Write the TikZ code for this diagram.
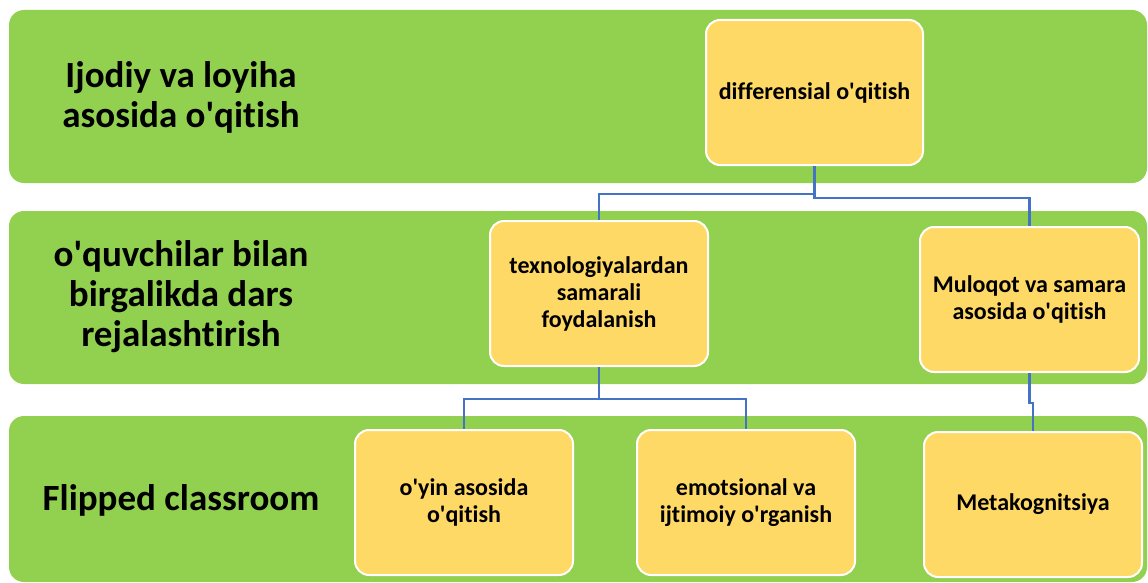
\documentclass[tikz,border=0pt]{standalone}
\usepackage{fontspec}
\setmainfont{Carlito}[Ligatures={TeX,NoCommon}]
\newcommand{\ap}{\textquotesingle}
\definecolor{bandgreen}{HTML}{92D050}
\definecolor{boxyellow}{HTML}{FFD966}
\definecolor{linkblue}{HTML}{4472C4}
\tikzset{
  band/.style={fill=bandgreen, draw=none, rounded corners=15pt},
  bandlabel/.style={align=center, font=\fontsize{37}{40}\selectfont\bfseries, text=black},
  card/.style={fill=boxyellow, draw=white, line width=2pt, rounded corners=14pt,
    minimum width=218pt, minimum height=145pt, align=center, inner sep=0pt,
    font=\fontsize{24}{27}\selectfont\bfseries, text=black},
  link/.style={draw=linkblue, line width=2.2pt}
}
\begin{document}
\begin{tikzpicture}[x=1pt,y=-1pt]
\useasboundingbox (0,0) rectangle (1148,583);
\fill[white] (0,0) rectangle (1148,583);
% bands
\path[band] (9,10) rectangle (1147,183);
\path[band] (9,211) rectangle (1147,384);
\path[band] (9,416) rectangle (1147,582);
% band labels
\node[bandlabel] (l1) at (181,97) {Ijodiy va loyiha\\asosida o\ap qitish};
\node[bandlabel] (l2) at (181,297) {o\ap quvchilar bilan\\birgalikda dars\\rejalashtirish};
\node[bandlabel] (l3) at (181,500) {Flipped classroom};
% cards
\node[card, minimum width=217pt] (diff) at (814.5,92.5) {differensial o\ap qitish};
\node[card] (tex) at (599,293.5) {texnologiyalardan\\samarali\\foydalanish};
\node[card, minimum width=219pt] (mul) at (1029.5,299.5) {Muloqot va samara\\asosida o\ap qitish};
\node[card] (oyin) at (464,502.5) {o\ap yin asosida\\o\ap qitish};
\node[card] (emo) at (746,502.5) {emotsional va\\ijtimoiy o\ap rganish};
\node[card] (meta) at (1033,504.5) {Metakognitsiya};
% connectors
\draw[link] (diff.south) -- ++(0,28) -| (tex.north);
\draw[link] (diff.south) -- ++(0,32) -| (mul.north);
\draw[link] (tex.south) -- ++(0,32) -| (oyin.north);
\draw[link] (tex.south) -- ++(0,32) -| (emo.north);
\draw[link] (mul.south) -- ++(0,30) -| (meta.north);
\end{tikzpicture}
\end{document}
